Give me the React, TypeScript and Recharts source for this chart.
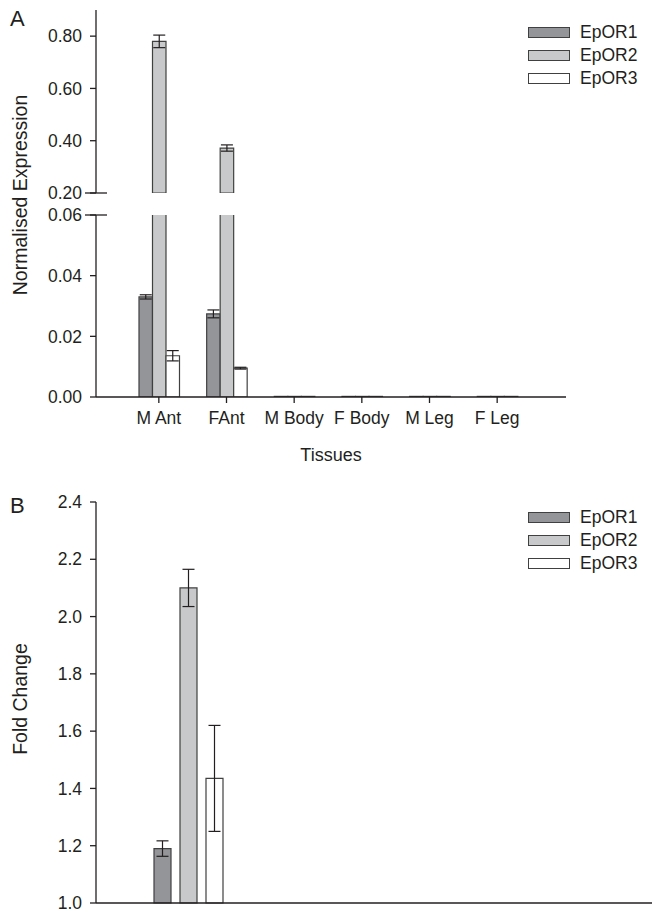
import React from 'react';
import { BarChart, Bar, XAxis, YAxis, ErrorBar, Legend } from 'recharts';

// Panel A: normalised expression per tissue
const tissues = ['M Ant', 'FAnt', 'M Body', 'F Body', 'M Leg', 'F Leg'];
const epor1 = [0.033, 0.0274, 0.0002, 0.0002, 0.0002, 0.0002];
const epor1Err = [0.0007, 0.0013, 0, 0, 0, 0];
const epor2 = [0.78, 0.372, 0.0002, 0.0002, 0.0002, 0.0002];
const epor2Err = [0.024, 0.012, 0, 0, 0, 0];
const epor3 = [0.0136, 0.0095, 0.0002, 0.0002, 0.0002, 0.0002];
const epor3Err = [0.0017, 0.0003, 0, 0, 0, 0];

const upperTicks = [0.2, 0.4, 0.6, 0.8];
const lowerTicks = [0, 0.02, 0.04, 0.06];
const upperDomain = [0.2, 0.9];
const lowerDomain = [0, 0.06];

// Panel B: fold change
const foldGroups = ['Antenna'];
const fold1 = [1.19];
const fold1Err = [0.027];
const fold2 = [2.1];
const fold2Err = [0.065];
const fold3 = [1.435];
const fold3Err = [0.185];
const foldTicks = [1.0, 1.2, 1.4, 1.6, 1.8, 2.0, 2.2, 2.4];

const seriesNames = ['EpOR1', 'EpOR2', 'EpOR3'];
const fills = ['#939598', '#c8c9cb', '#ffffff'];

const FONT = 'Arial, "Liberation Sans", Helvetica, sans-serif';
const INK = '#231f20';
const EDGE = '#404040';
const FS = 17.5;
const TICK = 6;
const GAP = 8;

const inRange = (v: number, d: number[]) => (v >= d[0] && v <= d[1] ? v : null);

const upperData = tissues.map((t, i) => ({
  name: t,
  a: inRange(epor1[i], upperDomain),
  ae: inRange(epor1[i], upperDomain) == null ? null : epor1Err[i],
  b: inRange(epor2[i], upperDomain),
  be: inRange(epor2[i], upperDomain) == null ? null : epor2Err[i],
  c: inRange(epor3[i], upperDomain),
  ce: inRange(epor3[i], upperDomain) == null ? null : epor3Err[i],
}));

const lowerData = tissues.map((t, i) => ({
  name: t,
  a: epor1[i],
  ae: epor1[i] <= lowerDomain[1] ? epor1Err[i] : null,
  b: epor2[i],
  be: epor2[i] <= lowerDomain[1] ? epor2Err[i] : null,
  c: epor3[i],
  ce: epor3[i] <= lowerDomain[1] ? epor3Err[i] : null,
}));

const foldData = foldGroups.map((g, i) => ({
  name: g,
  a: fold1[i],
  ae: fold1Err[i],
  b: fold2[i],
  be: fold2Err[i],
  c: fold3[i],
  ce: fold3Err[i],
}));

function YTick(props: any) {
  const { x, y, payload, digits, breakAt } = props;
  const ax = x + TICK + GAP;
  return (
    <g>
      {breakAt != null && Math.abs(payload.value - breakAt) < 1e-9 && (
        <line x1={ax - 11} x2={ax + 11} y1={y} y2={y} stroke={INK} strokeWidth={1.3} />
      )}
      <text x={x} y={y} dy="0.355em" textAnchor="end" fontSize={FS} fontFamily={FONT} fill={INK}>
        {Number(payload.value).toFixed(digits)}
      </text>
    </g>
  );
}

function LegendBox(props: any) {
  return (
    <div style={{ fontFamily: FONT, fontSize: FS, color: INK }}>
      {seriesNames.map((n, i) => (
        <div key={n} style={{ display: 'flex', alignItems: 'center', height: 23 }}>
          <div
            style={{
              width: 40,
              height: 9,
              background: fills[i],
              border: `1.3px solid ${EDGE}`,
            }}
          />
          <span style={{ marginLeft: 10 }}>{n}</span>
        </div>
      ))}
    </div>
  );
}

function bars(barSize: number) {
  const keys = ['a', 'b', 'c'];
  return keys.map((k, i) => (
    <Bar
      key={k}
      dataKey={k}
      name={seriesNames[i]}
      fill={fills[i]}
      stroke={EDGE}
      strokeWidth={1.2}
      barSize={barSize}
      isAnimationActive={false}
    >
      <ErrorBar dataKey={k + 'e'} width={6} stroke={INK} strokeWidth={1.2} direction="y" />
    </Bar>
  ));
}

const axisLine = { stroke: INK, strokeWidth: 1.3 };

function RotLabel({ text, cx, cy }: { text: string; cx: number; cy: number }) {
  return (
    <div
      style={{
        position: 'absolute',
        left: cx - 150,
        top: cy - 12,
        width: 300,
        height: 24,
        lineHeight: '24px',
        textAlign: 'center',
        transform: 'rotate(-90deg)',
        fontFamily: FONT,
        fontSize: 19.5,
        color: INK,
        whiteSpace: 'nowrap',
      }}
    >
      {text}
    </div>
  );
}

export default function App() {
  const padA = { left: 29, right: 35 };
  return (
    <div style={{ position: 'absolute', left: 0, top: 0, width: 652, height: 913, background: '#fff', overflow: 'hidden' }}>
      <div style={{ position: 'absolute', left: 10, top: 6, fontFamily: FONT, fontSize: 22, color: INK }}>A</div>
      <div style={{ position: 'absolute', left: 10, top: 493, fontFamily: FONT, fontSize: 22, color: INK }}>B</div>
      <RotLabel text="Normalised Expression" cx={20} cy={195} />
      <RotLabel text="Fold Change" cx={20} cy={699} />

      {/* Panel A, upper segment */}
      <div style={{ position: 'absolute', left: 0, top: 0 }}>
        <BarChart width={652} height={204} data={upperData} margin={{ top: 10, right: 86, bottom: 11, left: 0 }} barGap={0}>
          <XAxis dataKey="name" hide padding={padA} />
          <YAxis
            width={96}
            domain={upperDomain}
            ticks={upperTicks}
            interval={0}
            allowDataOverflow
            axisLine={axisLine}
            tickLine={axisLine}
            tickSize={TICK}
            tickMargin={GAP}
            tick={(p: any) => <YTick {...p} digits={2} breakAt={0.2} />}
          />
          {bars(13.5)}
          <Legend
            layout="vertical"
            align="center"
            verticalAlign="middle"
            content={<LegendBox />}
            wrapperStyle={{ top: 21, left: 528, width: 124 }}
          />
        </BarChart>
      </div>

      {/* Panel A, lower segment */}
      <div style={{ position: 'absolute', left: 0, top: 205 }}>
        <BarChart width={652} height={262} data={lowerData} margin={{ top: 10, right: 86, bottom: 0, left: 0 }} barGap={0}>
          <XAxis
            dataKey="name"
            padding={padA}
            height={70}
            interval={0}
            axisLine={axisLine}
            tickLine={axisLine}
            tickSize={TICK}
            tickMargin={9}
            tick={{ fontSize: FS, fontFamily: FONT, fill: INK }}
            label={{ value: 'Tissues', position: 'insideBottom', offset: 6, fontSize: 18, fontFamily: FONT, fill: INK }}
          />
          <YAxis
            width={96}
            domain={lowerDomain}
            ticks={lowerTicks}
            interval={0}
            allowDataOverflow
            axisLine={axisLine}
            tickLine={axisLine}
            tickSize={TICK}
            tickMargin={GAP}
            tick={(p: any) => <YTick {...p} digits={2} breakAt={0.06} />}
          />
          {bars(13.5)}
        </BarChart>
      </div>

      {/* Panel B */}
      <div style={{ position: 'absolute', left: 0, top: 492 }}>
        <BarChart width={652} height={421} data={foldData} margin={{ top: 10, right: 0, bottom: 0, left: 0 }} barGap={9}>
          <XAxis dataKey="name" padding={{ left: 20, right: 391 }} height={10} axisLine={axisLine} tick={false} tickLine={false} />
          <YAxis
            width={96}
            domain={[1, 2.4]}
            ticks={foldTicks}
            interval={0}
            axisLine={axisLine}
            tickLine={axisLine}
            tickSize={TICK}
            tickMargin={GAP}
            tick={(p: any) => <YTick {...p} digits={1} />}
          />
          {bars(17)}
          <Legend
            layout="vertical"
            align="center"
            verticalAlign="middle"
            content={<LegendBox />}
            wrapperStyle={{ top: 14, left: 528, width: 124 }}
          />
        </BarChart>
      </div>
    </div>
  );
}
